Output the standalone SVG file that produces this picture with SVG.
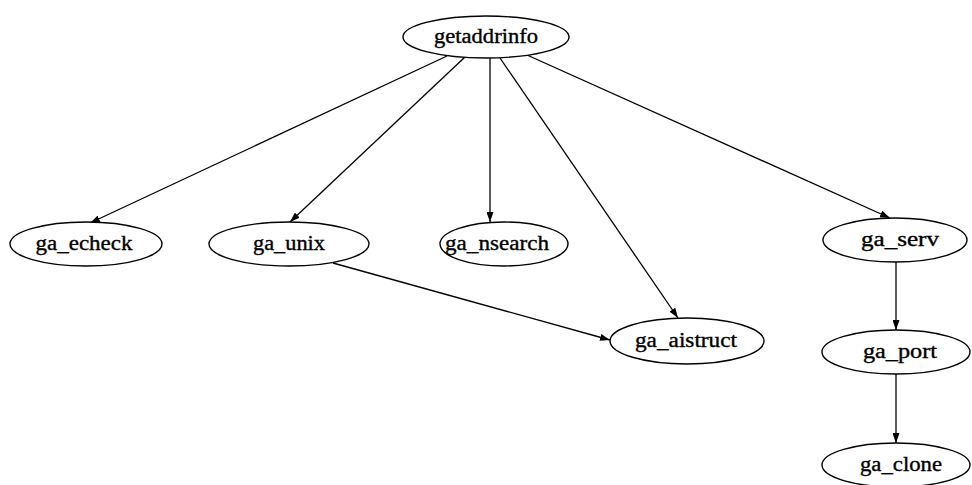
<svg xmlns="http://www.w3.org/2000/svg" width="972" height="485" viewBox="0 0 972 485">
  <defs>
    <marker id="arrow" viewBox="0 0 10 7" refX="10" refY="3.5" markerWidth="10" markerHeight="7" markerUnits="userSpaceOnUse" orient="auto">
      <path d="M0,0 L10,3.5 L0,7 Z" fill="#000"/>
    </marker>
    <style>
      .node ellipse { fill: #fff; stroke: #000; stroke-width: 1.4; }
      .node text { font-family: "Liberation Serif", "DejaVu Serif", serif; font-size: 20px; fill: #000; stroke: #000; stroke-width: 0.35; text-anchor: middle; }
      .edges line { stroke: #000; stroke-width: 1.3; marker-end: url(#arrow); }
    </style>
  </defs>
  <rect width="972" height="485" fill="#fff"/>

  <g class="edges" id="edges">
    <line x1="447" y1="56" x2="90" y2="223"/>
    <line x1="465" y1="57" x2="290" y2="222"/>
    <line x1="490" y1="58" x2="490" y2="222"/>
    <line x1="500" y1="58" x2="678" y2="318"/>
    <line x1="527" y1="55" x2="890" y2="218"/>
    <line x1="333" y1="263" x2="610" y2="340"/>
    <line x1="896" y1="262" x2="896" y2="330"/>
    <line x1="896" y1="374" x2="896" y2="443"/>
  </g>

  <g class="node" id="getaddrinfo">
    <ellipse cx="486" cy="37" rx="83" ry="21"/>
    <text x="486" y="43" textLength="104" lengthAdjust="spacingAndGlyphs">getaddrinfo</text>
  </g>
  <g class="node" id="ga_echeck">
    <ellipse cx="86" cy="244" rx="76" ry="22"/>
    <text x="84" y="250" textLength="97" lengthAdjust="spacingAndGlyphs">ga_echeck</text>
  </g>
  <g class="node" id="ga_unix">
    <ellipse cx="289" cy="244" rx="80" ry="22"/>
    <text x="289" y="250" textLength="72" lengthAdjust="spacingAndGlyphs">ga_unix</text>
  </g>
  <g class="node" id="ga_nsearch">
    <ellipse cx="504" cy="244" rx="64" ry="22"/>
    <text x="497" y="250" textLength="104" lengthAdjust="spacingAndGlyphs">ga_nsearch</text>
  </g>
  <g class="node" id="ga_aistruct">
    <ellipse cx="687" cy="341" rx="77" ry="23"/>
    <text x="686" y="347" textLength="102" lengthAdjust="spacingAndGlyphs">ga_aistruct</text>
  </g>
  <g class="node" id="ga_serv">
    <ellipse cx="895" cy="240" rx="72" ry="22"/>
    <text x="900" y="246" textLength="78" lengthAdjust="spacingAndGlyphs">ga_serv</text>
  </g>
  <g class="node" id="ga_port">
    <ellipse cx="896" cy="352" rx="74" ry="22"/>
    <text x="900" y="358" textLength="74" lengthAdjust="spacingAndGlyphs">ga_port</text>
  </g>
  <g class="node" id="ga_clone">
    <ellipse cx="896" cy="465" rx="74" ry="22"/>
    <text x="901" y="471" textLength="82" lengthAdjust="spacingAndGlyphs">ga_clone</text>
  </g>
</svg>
